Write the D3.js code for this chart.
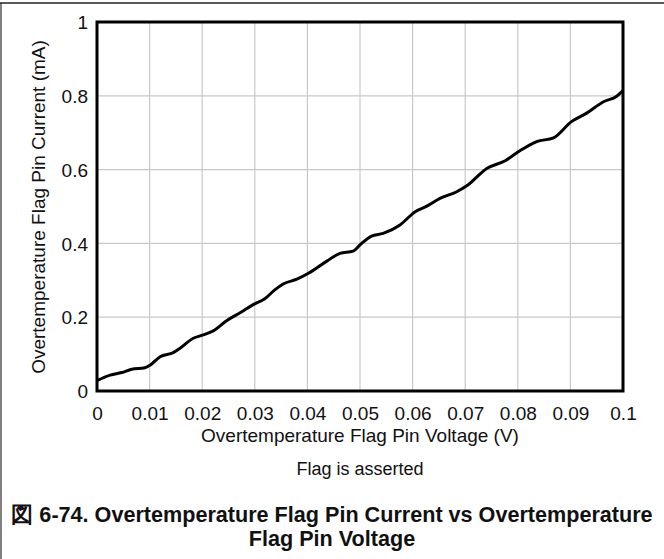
<!DOCTYPE html>
<html><head><meta charset="utf-8">
<script src="https://cdn.jsdelivr.net/npm/d3@7/dist/d3.min.js"></script>
<style>
html,body{margin:0;padding:0;background:#fff;}
text{font-family:"Liberation Sans",Arial,sans-serif;}
</style></head>
<body><svg id="c" width="664" height="559"></svg>
<script>
const voltage = [0,0.0025,0.0047,0.0066,0.0091,0.0101,0.012,0.0145,0.0158,0.0183,0.0202,0.0221,0.0247,0.0272,0.0297,0.0319,0.0338,0.0354,0.038,0.0402,0.0437,0.0462,0.0487,0.05,0.0522,0.0544,0.0576,0.0605,0.0627,0.0652,0.0684,0.0703,0.0741,0.0776,0.0804,0.0836,0.0868,0.0902,0.0931,0.0963,0.0988,0.1];
const current = [0.028,0.043,0.050,0.059,0.063,0.070,0.093,0.104,0.116,0.143,0.152,0.163,0.191,0.212,0.234,0.250,0.274,0.290,0.303,0.319,0.352,0.373,0.379,0.396,0.420,0.427,0.450,0.486,0.501,0.522,0.540,0.556,0.603,0.624,0.651,0.676,0.686,0.730,0.753,0.784,0.799,0.814];
const xTicks = [0,0.01,0.02,0.03,0.04,0.05,0.06,0.07,0.08,0.09,0.1];
const xTickLabels = ["0","0.01","0.02","0.03","0.04","0.05","0.06","0.07","0.08","0.09","0.1"];
const yTicks = [0,0.2,0.4,0.6,0.8,1];
const yTickLabels = ["0","0.2","0.4","0.6","0.8","1"];
const xTitle = "Overtemperature Flag Pin Voltage (V)";
const yTitle = "Overtemperature Flag Pin Current (mA)";
const note = "Flag is asserted";
const caption1 = "図 6-74. Overtemperature Flag Pin Current vs Overtemperature";
const caption2 = "Flag Pin Voltage";

const svg = d3.select("#c");
const L=97, R=623, T=22, B=391;
const x = d3.scaleLinear().domain([0,0.1]).range([L,R]);
const y = d3.scaleLinear().domain([0,1]).range([B,T]);

// outer frame
svg.append("line").attr("x1",1).attr("x2",1).attr("y1",3).attr("y2",559).attr("stroke","#808080").attr("stroke-width",2);
svg.append("line").attr("x1",0).attr("x2",664).attr("y1",3).attr("y2",3).attr("stroke","#222").attr("stroke-width",1.5);

// grid
svg.append("g").selectAll("line").data(xTicks.slice(1,-1)).join("line")
  .attr("x1",d=>x(d)).attr("x2",d=>x(d)).attr("y1",T).attr("y2",B)
  .attr("stroke","#c8c8c8").attr("stroke-width",1.2);
svg.append("g").selectAll("line").data(yTicks.slice(1,-1)).join("line")
  .attr("y1",d=>y(d)).attr("y2",d=>y(d)).attr("x1",L).attr("x2",R)
  .attr("stroke","#c8c8c8").attr("stroke-width",1.2);

// axes labels via d3 axes
const xAxis = d3.axisBottom(x).tickValues(xTicks).tickFormat((d,i)=>xTickLabels[i]).tickSize(0).tickPadding(0);
const gx = svg.append("g").attr("transform",`translate(0,${B})`).call(xAxis);
gx.attr("font-size",null).attr("font-family",null);
gx.select(".domain").remove();
gx.selectAll("text").attr("font-size",19).attr("fill","#111").attr("y",29).attr("dy",null);
const yAxis = d3.axisLeft(y).tickValues(yTicks).tickFormat((d,i)=>yTickLabels[i]).tickSize(0).tickPadding(9);
const gy = svg.append("g").attr("transform",`translate(${L},0)`).call(yAxis);
gy.attr("font-size",null).attr("font-family",null);
gy.select(".domain").remove();
gy.selectAll("text").attr("font-size",19).attr("fill","#111").attr("dy","0.35em");

// curve
const line = d3.line().x((d,i)=>x(voltage[i])).y(d=>y(d)).curve(d3.curveMonotoneX);
svg.append("path").datum(current).attr("d",line).attr("fill","none").attr("stroke","#000").attr("stroke-width",3);

// frame
svg.append("rect").attr("x",L).attr("y",T).attr("width",R-L).attr("height",B-T)
  .attr("fill","none").attr("stroke","#000").attr("stroke-width",3);

// titles
svg.append("text").attr("x",360).attr("y",442).attr("text-anchor","middle").attr("font-size",19).attr("fill","#111").text(xTitle);
svg.append("text").attr("transform",`translate(45,207) rotate(-90)`).attr("text-anchor","middle").attr("font-size",19).attr("fill","#111").text(yTitle);
svg.append("text").attr("x",360).attr("y",475).attr("text-anchor","middle").attr("font-size",18).attr("fill","#111").text(note);
svg.append("text").attr("x",332).attr("y",522).attr("text-anchor","middle").attr("font-size",21.6).attr("font-weight","bold").attr("fill","#111").text(caption1);
svg.append("text").attr("x",332).attr("y",546).attr("text-anchor","middle").attr("font-size",21.6).attr("font-weight","bold").attr("fill","#111").text(caption2);
</script></body></html>
